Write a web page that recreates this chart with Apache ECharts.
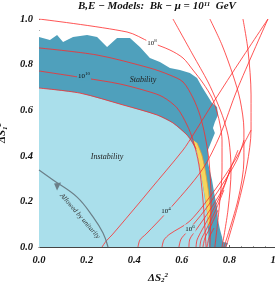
<!DOCTYPE html>
<html><head><meta charset="utf-8">
<script src="https://cdn.jsdelivr.net/npm/echarts@6/dist/echarts.min.js"></script>
<style>html,body{margin:0;padding:0;background:#fff}#c{width:275px;height:287px}</style>
</head><body><div id="c"></div>
<script>
// ---- data (ΔS2², ΔS1²) ----
const xTicks = [0, 0.2, 0.4, 0.6, 0.8, 1.0];
const yTicks = [0, 0.2, 0.4, 0.6, 0.8, 1.0];

// outer edge of stability (teal) region
const stabilityEdge = [[0,0.921],[0.046,0.908],[0.076,0.930],[0.101,0.899],[0.143,0.921],[0.202,0.930],[0.244,0.921],[0.286,0.877],[0.328,0.917],[0.382,0.917],[0.424,0.877],[0.466,0.829],[0.508,0.811],[0.550,0.785],[0.592,0.776],[0.634,0.763],[0.664,0.741],[0.685,0.702],[0.706,0.667],[0.727,0.632],[0.748,0.614],[0.752,0.579],[0.739,0.548],[0.731,0.522],[0.739,0.500],[0.727,0.469],[0.710,0.425],[0.710,0.368],[0.727,0.294],[0.739,0.219],[0.748,0.175],[0.752,0.118],[0.761,0.075],[0.769,0.044],[0.773,0.022],[0.794,0.018],[0.786,0]];
// upper edge of instability (light blue) region
const instabilityEdge = [[0,0.697],[0.172,0.675],[0.353,0.623],[0.496,0.579],[0.563,0.544],[0.622,0.491],[0.643,0.461],[0.664,0.417],[0.676,0.351],[0.685,0.294],[0.706,0.149],[0.710,0.088],[0.714,0]];
// yellow strip along the edge
const yellowStrip = [[0.647,0.469],[0.664,0.417],[0.676,0.351],[0.685,0.294],[0.697,0.219],[0.706,0.149],[0.710,0.088],[0.716,0.096],[0.720,0.162],[0.711,0.250],[0.698,0.338],[0.684,0.404],[0.664,0.456]];
const orangeEdge = [[0.664,0.456],[0.684,0.404],[0.698,0.338],[0.711,0.250],[0.720,0.162],[0.716,0.096]];
// unitarity bound
const unitarity = [[0,0.338],[0.059,0.294],[0.160,0.219],[0.227,0.132],[0.269,0.061],[0.290,0]];
const unitarityArrow = [0.080, 0.265];

// red contours, family A (concentric with the edge)
const contourA = [
  [[0,0.697],[0.172,0.675],[0.353,0.623],[0.496,0.579],[0.563,0.544],[0.622,0.491],[0.643,0.461],[0.660,0.430]],
  [[0,0.772],[0.193,0.741],[0.340,0.715],[0.466,0.680],[0.521,0.658],[0.580,0.610],[0.622,0.535],[0.647,0.469],[0.672,0.360],[0.689,0.206],[0.702,0]],
  [[0,0.873],[0.244,0.842],[0.466,0.785],[0.550,0.754],[0.605,0.724],[0.647,0.654],[0.676,0.579],[0.697,0.491],[0.714,0.382],[0.723,0.206],[0.718,0]],
  [[0,1.0],[0.370,0.943],[0.466,0.899],[0.550,0.864],[0.605,0.829],[0.647,0.776],[0.689,0.719],[0.727,0.654],[0.748,0.592],[0.761,0.535],[0.769,0.469],[0.769,0.338],[0.756,0.162],[0.739,0]],
  [[0.563,1.0],[0.647,0.842],[0.710,0.724],[0.748,0.636],[0.777,0.557],[0.798,0.469],[0.807,0.338],[0.794,0.162],[0.769,0]],
  [[0.718,1.0],[0.769,0.886],[0.815,0.754],[0.845,0.645],[0.861,0.513],[0.861,0.382],[0.836,0.206],[0.777,0]],
  [[0.857,1.0],[0.878,0.864],[0.891,0.667],[0.891,0.513],[0.874,0.360],[0.836,0.184],[0.786,0]]
];
// red contours, family B (rising from the bottom)
const contourB = [
  [[0.265,0],[0.282,0.026],[0.307,0.053],[0.424,0.197],[0.466,0.250],[0.605,0.425],[0.647,0.491],[0.718,0.610],[0.815,0.768],[0.962,1.0]],
  [[0.416,0],[0.424,0.031],[0.450,0.057],[0.538,0.154],[0.685,0.338],[0.761,0.491],[0.832,0.689],[0.962,1.0]],
  [[0.517,0],[0.525,0.031],[0.550,0.057],[0.634,0.114],[0.739,0.250],[0.824,0.382],[0.891,0.513]],
  [[0.588,0],[0.597,0.035],[0.622,0.066],[0.697,0.162],[0.769,0.272],[0.832,0.382],[0.861,0.469]],
  [[0.630,0],[0.634,0.035],[0.660,0.075],[0.718,0.162],[0.769,0.250],[0.811,0.360],[0.836,0.425]],
  [[0.660,0],[0.664,0.031],[0.685,0.075],[0.727,0.154],[0.769,0.241],[0.803,0.338]],
  [[0.676,0],[0.681,0.031],[0.702,0.075],[0.739,0.154],[0.777,0.250]],
  [[0.689,0],[0.697,0.039],[0.718,0.083],[0.752,0.162]],
  [[0.706,0],[0.714,0.039],[0.735,0.083]]
];
// text annotations
const notes = [
  [0.437, 0.732, 'Stability'],
  [0.286, 0.395, 'Instability']
];
const levelLabels = [
  [0.475, 0.895, '8', '#ffffff'],
  [0.189, 0.750, '10', '#4fa0bc'],
  [0.534, 0.158, '4', '#aadfeb'],
  [0.634, 0.079, '6', '#aadfeb']
];
const unitarityNote = [0.172, 0.136, 'Allowed by unitarity', -49];

// ---- chart ----
const SERIF = '"Liberation Serif", "DejaVu Serif", serif';
const TEAL = '#4fa0bc', LIGHT = '#aadfeb', RED = '#ff2a2a';

function polygon(pts, fill, z) {
  return {type:'custom', coordinateSystem:'cartesian2d', data:[[0,0]], z, silent:true, clip:true,
    renderItem:(p, api) => ({type:'polygon', shape:{points: pts.map(q => api.coord(q))}, style:{fill}})};
}
function line(pts, color, width, z, smooth) {
  return {type:'line', data:pts, showSymbol:false, smooth: smooth === undefined ? 0.3 : smooth, z, silent:true,
    lineStyle:{color, width}, animation:false};
}
const series = [];
series.push(polygon([[0,0]].concat(stabilityEdge), TEAL, 1));
series.push(polygon([[0,0]].concat(instabilityEdge), LIGHT, 2));
series.push(polygon(yellowStrip, '#f6d65e', 3));
series.push(line(orangeEdge, '#f3a32d', 0.8, 4));
contourA.forEach(c => series.push(line(c, RED, 0.8, 5)));
contourB.forEach(c => series.push(line(c, RED, 0.8, 5)));
series.push(line(unitarity, '#6b7f88', 1.2, 6, 0.4));
series.push({type:'custom', coordinateSystem:'cartesian2d', data:[unitarityArrow], z:7, silent:true,
  renderItem:(p, api) => { const c = api.coord([api.value(0), api.value(1)]);
    return {type:'polygon', shape:{points:[[c[0]-4,c[1]-3],[c[0]+3,c[1]-4],[c[0]-1,c[1]+4]]}, style:{fill:'#6b7f88'}}; }});
series.push({type:'custom', coordinateSystem:'cartesian2d', data:notes, z:10, silent:true,
  renderItem:(p, api) => { const c = api.coord([api.value(0), api.value(1)]);
    return {type:'text', x:c[0], y:c[1], style:{text:notes[p.dataIndex][2], fill:'#222', font:'italic 8px ' + SERIF, align:'center', verticalAlign:'middle'}}; }});
series.push({type:'custom', coordinateSystem:'cartesian2d', data:levelLabels, z:10, silent:true,
  renderItem:(p, api) => { const c = api.coord([api.value(0), api.value(1)]); const L = levelLabels[p.dataIndex];
    return {type:'text', x:c[0], y:c[1], style:{text:'{b|10}{s|' + L[2] + '}', align:'center', verticalAlign:'middle',
      backgroundColor:L[3], padding:[0,1],
      rich:{b:{fontSize:7, fontFamily:SERIF, fill:'#111', lineHeight:9}, s:{fontSize:5, fontFamily:SERIF, fill:'#111', lineHeight:9, padding:[0,0,4,0]}}}}; }});
series.push({type:'custom', coordinateSystem:'cartesian2d', data:[unitarityNote], z:10, silent:true,
  renderItem:(p, api) => { const c = api.coord([api.value(0), api.value(1)]);
    return {type:'text', x:c[0], y:c[1], rotation:unitarityNote[3]*Math.PI/180,
      style:{text:unitarityNote[2], fill:'#333', font:'italic 7px ' + SERIF, align:'center', verticalAlign:'middle'}}; }});

const labelStyle = {fontFamily:SERIF, fontStyle:'italic', fontWeight:'bold', fontSize:10.5, color:'#111'};
const chart = echarts.init(document.getElementById('c'), null, {renderer:'canvas'});
chart.setOption({
  animation:false,
  backgroundColor:'#fff',
  title:{left:78, top:0, padding:0,
    text:'{t|B,E \u2212 Models:  Bk \u2212 \u03bc = 10}{s|11}{t|  GeV}',
    textStyle:{rich:{
      t:{fontFamily:SERIF, fontStyle:'italic', fontWeight:'bold', fontSize:11, color:'#111', lineHeight:13},
      s:{fontFamily:SERIF, fontStyle:'italic', fontWeight:'bold', fontSize:7, color:'#111', lineHeight:13, padding:[0,0,5,0]}}}},
  grid:{left:39, top:19, width:238, height:228, outerBoundsMode:'none', containLabel:false},
  xAxis:{type:'value', min:0, max:1, interval:0.2, offset:5,
    axisLine:{show:true, lineStyle:{color:'#444', width:1}},
    axisTick:{show:true, inside:true, length:2, lineStyle:{color:'#666'}},
    minorTick:{show:true, splitNumber:4, length:1, lineStyle:{color:'#999'}},
    splitLine:{show:false},
    axisLabel:Object.assign({margin:3, formatter:v => v.toFixed(1), hideOverlap:false}, labelStyle),
    name:'{a|\u0394S}{b|2}{c|2}', nameLocation:'middle', nameGap:19,
    nameTextStyle:{rich:{
      a:{fontFamily:SERIF, fontStyle:'italic', fontWeight:'bold', fontSize:11, color:'#111', lineHeight:14},
      b:{fontFamily:SERIF, fontStyle:'italic', fontWeight:'bold', fontSize:7, color:'#111', lineHeight:14, padding:[5,0,0,0]},
      c:{fontFamily:SERIF, fontStyle:'italic', fontWeight:'bold', fontSize:7, color:'#111', lineHeight:14, padding:[0,0,6,0]}}}},
  yAxis:{type:'value', min:0, max:1, interval:0.2, offset:4,
    axisLine:{show:false},
    axisTick:{show:true, inside:true, length:1, lineStyle:{color:'#888'}},
    minorTick:{show:true, splitNumber:4, length:1, lineStyle:{color:'#aaa'}},
    splitLine:{show:false},
    axisLabel:Object.assign({margin:2, formatter:v => v.toFixed(1)}, labelStyle),
    name:'{a|\u0394S}{b|1}{c|2}', nameLocation:'middle', nameGap:24, nameRotate:90,
    nameTextStyle:{rich:{
      a:{fontFamily:SERIF, fontStyle:'italic', fontWeight:'bold', fontSize:11, color:'#111', lineHeight:14},
      b:{fontFamily:SERIF, fontStyle:'italic', fontWeight:'bold', fontSize:7, color:'#111', lineHeight:14, padding:[5,0,0,0]},
      c:{fontFamily:SERIF, fontStyle:'italic', fontWeight:'bold', fontSize:7, color:'#111', lineHeight:14, padding:[0,0,6,0]}}}},
  series
});
</script></body></html>
